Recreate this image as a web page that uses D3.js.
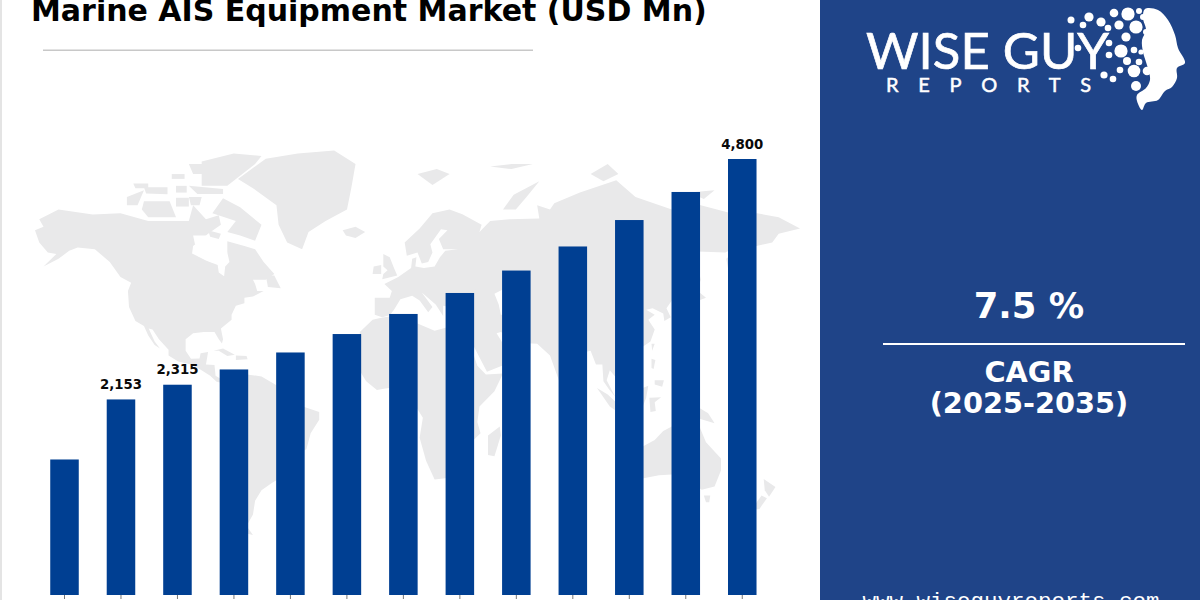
<!DOCTYPE html>
<html><head><meta charset="utf-8">
<script src="https://cdn.jsdelivr.net/npm/d3@7"></script>
<style>html,body{margin:0;padding:0;background:#fff;overflow:hidden}svg{display:block}</style>
</head><body><svg id="c" width="1200" height="600"></svg>
<script>
const years=[2023,2024,2025,2026,2027,2028,2029,2030,2031,2032,2033,2034,2035];
const values=[1492,2153,2315,2483,2670,2873,3094,3325,3572,3837,4128,4437,4800];
const labelledYears=[2024,2025,2035];
const titleText="Marine AIS Equipment Market (USD Mn)";
const cagrText="7.5 %";
const cagrLabel=["CAGR","(2025-2035)"];
const siteText="www.wiseguyreports.com";

// decorative backdrop: rough coastlines as [lon,lat]
const land=[
[[-168,65.5],[-164,66.5],[-166,68.5],[-157,71],[-141,69.7],[-128,70],[-115,68],[-108,68],[-96,68],[-94,72],[-88,68.5],[-82,69.5],[-81,67],[-87,64.5],[-94,61],[-94.5,58.7],[-88,56.5],[-82.5,55],[-82,52.5],[-79.5,51.2],[-79,54.5],[-77,56],[-78,59],[-78,62.4],[-70,61],[-65,60],[-61,56],[-56,52],[-60,50],[-66,50],[-65,48.5],[-64,46],[-61,46],[-66,44],[-70,43.5],[-70,41.5],[-74,40.5],[-76,37],[-76,35],[-81,31.5],[-80,27],[-80.5,25.2],[-82,27],[-84,30],[-89,30],[-94,29.5],[-97.5,27],[-97.5,22],[-95,18.5],[-91,18.7],[-90.5,21],[-87,21.5],[-88,16],[-84,15.8],[-83.5,11],[-80,9],[-77.5,8.7],[-79,7.5],[-83,8.3],[-86,11],[-91,14],[-95,16],[-101,17.3],[-105.5,20],[-105.5,22.5],[-110,27],[-113,31],[-114.8,31.5],[-112,26],[-109.5,23],[-112,24.5],[-115,28.5],[-117,32.5],[-121,34.5],[-124,40],[-124.5,46],[-123,49],[-128,51],[-133,56],[-140,60],[-148,60.5],[-152,59.5],[-157,57],[-164,54.5],[-158,58.5],[-162,59],[-166,62]],
[[-73,78],[-60,82],[-45,83],[-28,83.5],[-18,81],[-20,76],[-22,71],[-32,68],[-40,65],[-43,60],[-50,62],[-54,67],[-55,72],[-66,76]],
[[-90,76.5],[-78,76.5],[-65,81],[-62,82.5],[-75,83],[-90,81.5]],
[[-80,73.7],[-72,71.5],[-62,67],[-65,62.5],[-72,64],[-78,65],[-74,68],[-85,70]],
[[-117,73],[-105,73],[-102,69],[-115,69],[-118,71]],
[[-125,74],[-117,75.5],[-120,72],[-125,72]],
[[-102,73.8],[-96,73.8],[-96,71.7],[-102,71.7]],
[[-96,74],[-90,74],[-91,72],[-95,72]],
[[-102,76.5],[-97,76.5],[-97,75],[-102,75]],
[[-117,76.2],[-106,76.2],[-106,74.6],[-116,74.8]],
[[-122,77],[-115,77],[-115,76],[-121,76]],
[[-104,79],[-98,79],[-98,78],[-104,78]],
[[-96,81],[-88,81],[-87,79],[-94,79]],
[[-96,76.5],[-80,75.8],[-80,74.7],[-92,74.7]],
[[-87,65.5],[-81,64.5],[-82,63],[-86,63.7]],
[[-60,51.5],[-56,51.5],[-53,47],[-59,47.5]],
[[-84.5,22],[-80,23],[-74.5,20.3],[-78,19.8],[-82,22]],
[[-74,20],[-69,19.7],[-68.5,18.3],[-74,18]],
[[-24,65.5],[-18,66.5],[-13.5,65],[-18,63.3],[-22.5,64]],
[[-78,8.5],[-72,12],[-62,10.7],[-52,5],[-50,0],[-44,-2.5],[-35,-5.5],[-35,-9],[-39,-15],[-41,-22],[-48,-25.5],[-49,-29],[-54,-34.5],[-57,-36],[-62,-39],[-65,-43],[-66,-48],[-69,-52],[-66,-55],[-72,-54],[-75,-50],[-73.5,-40],[-71,-30],[-70,-18],[-76,-14],[-81,-6],[-80,-2],[-78,3]],
[[-16,30],[-10,35],[-6,35.8],[3,37],[10,37.3],[11,33.5],[19,30.5],[25,32],[32,31],[34.5,28],[37,21],[39,15.5],[43,11.5],[51,12],[47,4],[40,-3],[39,-10],[40.5,-15],[35,-20],[35.5,-24],[32,-29],[26,-34],[19,-34.7],[15,-27],[12,-17],[13.5,-8],[9,-1],[9.5,4],[4,6.3],[-4,5.2],[-8,4.5],[-13,8.5],[-17,14.7],[-16,21]],
[[-9,37],[-9,43.5],[-2,43.5],[-1,46],[-4.5,48.5],[2,51],[8,54],[8.5,57],[10.5,57.5],[10,54.5],[14,54],[19,54.5],[21.5,57.5],[24,59.5],[30,60],[23,60],[21,63],[25,65.5],[22,65.8],[17,61.5],[18,59],[16,56],[13,55.5],[11,59],[6,58],[5,62],[12,66],[18,70],[26,71],[32,69.8],[41,67],[40,65],[45,68],[54,68.5],[68,68.7],[67,72],[73,71],[75,72.5],[87,75],[104,77.7],[113,74],[130,71],[140,72.5],[160,69.7],[170,70],[180,69],[190,66],[180,64.5],[177,62],[163,60],[163,56],[157,51],[155.5,57],[163,61.5],[155,59],[142,59.3],[135,54.7],[141,52],[135,43.5],[130,42.5],[127.5,39.5],[129.5,36],[126.5,34.5],[126,37.5],[121,39.5],[118,39],[122,37],[119,35],[122,31],[120,26],[114,22.3],[108,21.5],[106,19],[109,13],[105,8.8],[101,13.5],[99.5,9],[103.5,1.5],[100.5,5],[98,8.5],[97.5,16],[94.5,16],[92,22],[87,21],[80.3,15],[79.8,10],[77.5,8],[73,20],[67,25],[57,25.5],[56.5,27],[50,30],[48,29.5],[51,25],[56,25],[59.5,22.5],[52,16],[43.5,12.8],[39,21],[35,28],[34.5,31.5],[36,36.5],[30,36.3],[26.5,38],[26.5,40],[23,40.5],[23,36.5],[19.5,41],[13,45.5],[18,40],[16,38],[12,42.5],[8.5,44.3],[3,43],[0,39],[-2,36.8],[-5.5,36]],
[[27,41.5],[31,46.5],[37,45.5],[39,47],[41,42],[36,41.5],[29,41]],
[[-5.5,50.2],[1.5,51.5],[0,54],[-2,57.5],[-5,58.5],[-5,54.5],[-3,53.3],[-5,52]],
[[-10,52],[-6,52],[-6,55],[-9.5,54.5]],
[[11,79],[20,80],[26,79],[18,76.7]],
[[45,80.5],[55,81],[65,81],[55,80]],
[[92,79],[100,81],[105,79],[98,77.5]],
[[138,75],[150,75.5],[145,73.5]],
[[51,71],[56,74.5],[68,77.5],[62,74],[57,71]],
[[131,31.5],[133,34],[137,36],[141,40],[143,41],[142.5,36],[137,34],[132,31.5]],
[[141,42],[146,43.5],[143,45.5]],
[[142,46],[143.5,50],[142.5,54],[142,50]],
[[120.5,25],[122,25],[120.8,22]],
[[80,9.5],[82,7],[80.3,6]],
[[95,5.5],[100,2.5],[106,-3],[105.5,-6],[101,-3]],
[[109,1.5],[114,4.5],[119,6.5],[118,1],[116,-4],[110,-3]],
[[119.5,1],[125,1.3],[122,-1],[122.5,-5],[120,-5.5]],
[[105.5,-6.5],[114,-7],[114.5,-8.6],[106,-7.6]],
[[120.5,18.5],[122.3,18],[121.5,14],[120.5,14.5]],
[[122,9],[126.3,9],[125.5,6],[122,7]],
[[131,-1],[141,-2.5],[147,-6],[150,-10.5],[143,-8.5],[138,-8],[133,-4]],
[[114,-22],[122,-18],[126,-14],[130,-12],[136,-12],[135.5,-15],[140,-17.5],[142.5,-11],[146,-19],[153,-26],[153,-31],[150,-37.5],[144,-38.8],[138,-35],[134,-32.5],[124,-33],[115,-34.5],[115,-28]],
[[145,-41],[148,-41],[147.5,-43.5],[146,-43.5]],
[[173,-34.5],[178.5,-37.7],[175.5,-41.5],[173.5,-39]],
[[167,-46.5],[172,-41],[174.5,-42],[171,-46]],
[[44,-16],[49.5,-12],[50,-16],[47,-25],[44,-24.5]]
];
const waters=[
[[47,45],[52,47],[53,41],[54,37],[50,37],[49,41]],
[[-94,64],[-88,64],[-82,62],[-78,59],[-80,55],[-86,56],[-92,58]]
];

const logoDots=[[1071,20,3.5],[1089,17,4.6],[1083,25,3.3],[1101,22,4.6],[1108,28,3.3],[1114,13,4.3],[1128,14,6.6],[1119,25,4.6],[1136,27,6.6],[1139,11,3],[1143,17,3],[1146,32,3],[1126,37,4.6],[1109,43,3.3],[1121,51,6.6],[1109,55,3.3],[1134,50,3.3],[1141,52,2.6],[1127,61,4],[1139,62,3.3],[1120,70,3.3],[1134,71,6.3],[1147,71,4.3],[1104,75,3.6],[1113,79,3.3],[1136,86,5],[1078,48,3.3]];
const head=[[1145,9],[1158,10],[1168,20],[1175,35],[1178,48],[1185,63],[1177,68],[1177,78],[1172,87],[1165,91],[1158,100],[1146,103],[1142,110],[1137,101],[1137,95],[1146,88],[1150,80],[1149,72],[1146,62],[1143,52],[1142,40],[1146,30],[1143,18]];

const svg=d3.select("#c");
const lon=d3.scaleLinear().domain([-180,180]).range([394-180*2.137,394+180*2.137]);
const miller=p=>1.25*Math.log(Math.tan(Math.PI/4+0.4*p*Math.PI/180));
const lat=d3.scaleLinear().domain([0,1]).range([400,400-126]);
const geo=d3.geoPath(d3.geoTransform({point(a,b){this.stream.point(lon(a),lat(miller(b)));}}));
const ring=r=>({type:"Polygon",coordinates:[[...r,r[0]]]});

svg.append("rect").attr("width",1200).attr("height",600).attr("fill","#fff");
svg.append("rect").attr("width",2).attr("height",600).attr("fill","#e4e4e4");

svg.append("g").selectAll("path").data(land).join("path").attr("d",d=>geo(ring(d))).attr("fill","#e9e9ea");
svg.append("g").selectAll("path").data(waters).join("path").attr("d",d=>geo(ring(d))).attr("fill","#fff");

const x=d3.scaleBand().domain(years).range([36.26,770.5]).paddingInner(.495).paddingOuter(.2475);
const y=d3.scaleLinear().domain([0,4800]).range([595,159]);

svg.append("g").selectAll("rect").data(years).join("rect")
 .attr("x",d=>x(d)).attr("width",x.bandwidth())
 .attr("y",(d,i)=>y(values[i])).attr("height",(d,i)=>y(0)-y(values[i]))
 .attr("fill","#003f92");

const ax=svg.append("g").attr("transform","translate(0,595)").call(d3.axisBottom(x).tickSize(4).tickFormat(""));
ax.select(".domain").remove();
ax.selectAll("line").attr("stroke","#555").attr("stroke-width",.8);

svg.append("g").selectAll("text").data(years.filter(d=>labelledYears.includes(d))).join("text")
 .attr("x",d=>x(d)+x.bandwidth()/2).attr("y",d=>y(values[years.indexOf(d)])-10.5)
 .attr("text-anchor","middle").attr("font-family","DejaVu Sans").attr("font-weight","bold").attr("font-size",13.3).attr("fill","#0a0a0a")
 .text(d=>d3.format(",")(values[years.indexOf(d)]));

svg.append("text").attr("x",31).attr("y",21).attr("font-family","DejaVu Sans").attr("font-weight","bold").attr("font-size",30).attr("fill","#000").text(titleText);
svg.append("rect").attr("x",43).attr("y",49.5).attr("width",490).attr("height",1.5).attr("fill","#c8c8c8");

// side panel
svg.append("rect").attr("x",820).attr("width",380).attr("height",600).attr("fill","#1f4488");
const white="#fff";
svg.append("text").attr("x",866).attr("y",68.5).attr("font-family","Lato").attr("font-size",51).attr("fill",white).attr("stroke",white).attr("stroke-width",.7).attr("textLength",243).attr("lengthAdjust","spacingAndGlyphs").text("WISE GUY");
svg.append("text").attr("x",886).attr("y",92).attr("font-family","Lato").attr("font-size",20).attr("fill",white).attr("stroke",white).attr("stroke-width",.5).attr("textLength",205).attr("lengthAdjust","spacing").text("REPORTS");
svg.append("g").selectAll("circle").data(logoDots).join("circle").attr("cx",d=>d[0]).attr("cy",d=>d[1]).attr("r",d=>d[2]).attr("fill",white);
svg.append("path").attr("d",d3.line().curve(d3.curveCatmullRomClosed.alpha(.5))(head)).attr("fill",white);

svg.append("text").attr("x",1029).attr("y",318).attr("text-anchor","middle").attr("font-family","DejaVu Sans").attr("font-weight","bold").attr("font-size",35.4).attr("fill",white).text(cagrText);
svg.append("rect").attr("x",883).attr("y",343).attr("width",302).attr("height",2).attr("fill",white);
svg.append("g").selectAll("text").data(cagrLabel).join("text").attr("x",1029).attr("y",(d,i)=>382+i*30.5)
 .attr("text-anchor","middle").attr("font-family","DejaVu Sans").attr("font-weight","bold").attr("font-size",28.8).attr("fill",white).text(d=>d);
svg.append("text").attr("x",1011).attr("y",608).attr("text-anchor","middle").attr("font-family","Liberation Mono").attr("font-size",22.5).attr("fill",white).text(siteText);
</script></body></html>
